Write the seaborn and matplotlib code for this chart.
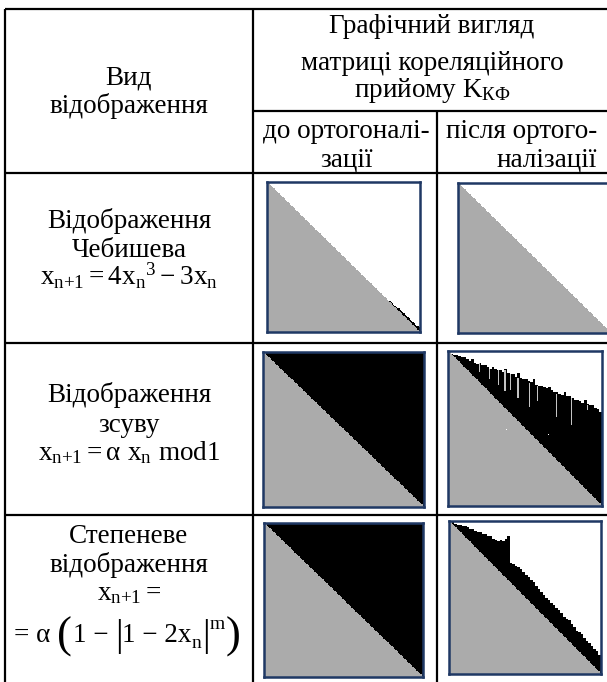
import numpy as np
import matplotlib.pyplot as plt
import seaborn as sns
from matplotlib.colors import ListedColormap

# --- table text ---
header_left = ["Вид", "відображення"]
header_top = ["Графічний вигляд", "матриці кореляційного", "прийому $\\mathrm{K}_{\\mathrm{КФ}}$"]
header_before = ["до ортогоналі-", "зації"]
header_after = ["після ортого-", "налізації"]
row_titles = [["Відображення", "Чебишева"],
              ["Відображення", "зсуву"],
              ["Степеневе", "відображення"]]
row_formulas = [[r"$x_{n{+}1} = 4x_n{}^{3} - 3x_n$"],
                [r"$x_{n{+}1} = α\ x_n\ mod1$"],
                [r"$x_{n{+}1} =$"]]
# last formula line is set piece by piece: (text, size factor, baseline shift px, gap after px)
power_pieces = [("= α", 1.0, 0, 7), ("(", 1.65, 6, 1), ("1 − ", 1.0, 0, 0),
                ("|", 1.4, 4, 0), ("1 − 2x", 1.0, 0, 0), ("n", 0.72, 6, 0),
                ("|", 1.4, 4, 0), ("m", 0.72, -13, 1), (")", 1.65, 6, 0)]

# --- matrix data (fractions of the matrix size) ---
# row where the black band starts above the diagonal, per column group
shift_after_top = [0.00, 0.01, 0.02, 0.02, 0.03, 0.04, 0.04, 0.05, 0.06, 0.05,
                   0.07, 0.08, 0.07, 0.09, 0.09, 0.10, 0.11, 0.10, 0.11, 0.12,
                   0.12, 0.13, 0.11, 0.14, 0.15, 0.15, 0.16, 0.14, 0.17, 0.18,
                   0.18, 0.19, 0.20, 0.18, 0.21, 0.22, 0.22, 0.23, 0.24, 0.23,
                   0.25, 0.26, 0.26, 0.27, 0.28, 0.26, 0.29, 0.29, 0.30, 0.31,
                   0.31, 0.32, 0.33, 0.31, 0.34, 0.35, 0.35, 0.36, 0.37, 0.39]
power_after_top = [0.00, 0.00, 0.01, 0.02, 0.02, 0.03, 0.03, 0.04, 0.05, 0.05,
                   0.06, 0.07, 0.07, 0.08, 0.08, 0.10, 0.10, 0.11, 0.12, 0.13,
                   0.12, 0.13, 0.11, 0.10, 0.27, 0.28, 0.29, 0.30, 0.31, 0.33,
                   0.35, 0.36, 0.38, 0.40, 0.42, 0.44, 0.46, 0.48, 0.50, 0.51,
                   0.53, 0.55, 0.56, 0.58, 0.60, 0.62, 0.64, 0.65, 0.67, 0.69,
                   0.71, 0.72, 0.74, 0.76, 0.78, 0.80, 0.81, 0.83, 0.85, 0.87]
# light streaks inside the black band: (column, row from, row to)
shift_after_streaks = [(0.20, 0.08, 0.135), (0.27, 0.10, 0.19), (0.33, 0.11, 0.22),
                       (0.37, 0.13, 0.26), (0.40, 0.14, 0.25), (0.45, 0.18, 0.30),
                       (0.53, 0.21, 0.36), (0.58, 0.23, 0.33), (0.70, 0.28, 0.43),
                       (0.80, 0.30, 0.48), (0.90, 0.35, 0.39)]
shift_after_dots = [(0.377, 0.50), (0.656, 0.535)]
# short black streak along the diagonal near the end (Chebyshev, before)
cheb_before_tail_cols = [0.80, 0.83, 0.86, 0.89, 0.92, 0.95, 0.98]
cheb_before_tail_depth = [0.008, 0.010, 0.013, 0.015, 0.018, 0.020, 0.022]

N = 120
cmap = ListedColormap(["#FFFFFF", "#ABABAB", "#000000", "#C4C4C4"])


def base_matrix():
    i, j = np.indices((N, N))
    return np.where(i >= j, 1, 0), i, j


def band_matrix(top):
    m, i, j = base_matrix()
    k = j * len(top) // N
    t = np.asarray(top)[k] * N
    m[(i < j) & (i >= t)] = 2
    return m


def white_matrix():
    return base_matrix()[0]


def black_matrix():
    m, i, j = base_matrix()
    m[i < j] = 2
    return m


def cheb_before():
    m, i, j = base_matrix()
    cols = np.asarray(cheb_before_tail_cols)
    for jj in range(N):
        f = (jj + 0.5) / N
        if f < cols[0]:
            continue
        d = cheb_before_tail_depth[np.searchsorted(cols, f, side="right") - 1]
        lo = int(round(jj - max(1, d * N)))
        m[max(lo, 0):jj, jj] = 2
    return m


def shift_after():
    m = band_matrix(shift_after_top)
    for c, r0, r1 in shift_after_streaks:
        jj = int(c * N)
        seg = m[int(r0 * N):int(r1 * N), jj]
        seg[seg == 2] = 3
    for c, r in shift_after_dots:
        m[int(r * N), int(c * N)] = 0
    return m


panels = [[cheb_before(), white_matrix()],
          [black_matrix(), shift_after()],
          [black_matrix(), band_matrix(power_after_top)]]

# image boxes in pixels: left, top, right, bottom
boxes = [[(267, 182, 420, 332), (458, 183, 611, 333)],
         [(263, 352, 424, 507), (448, 351, 602, 506)],
         [(264, 523, 423, 677), (449, 521, 601, 674)]]

sns.set_style("white")
plt.rcParams["font.family"] = ["Liberation Serif", "DejaVu Serif"]
plt.rcParams["mathtext.fontset"] = "custom"
plt.rcParams["mathtext.rm"] = "Liberation Serif"
plt.rcParams["mathtext.it"] = "Liberation Serif"
plt.rcParams["mathtext.default"] = "rm"

W, H = 607, 682
fig = plt.figure(figsize=(W / 100, H / 100), dpi=100)
bg = fig.add_axes([0, 0, 1, 1])
bg.set_xlim(0, W)
bg.set_ylim(H, 0)
bg.axis("off")

# table grid
lw = 1.6
for (x0, x1, y) in [(5, 620, 9), (253, 620, 111), (5, 620, 173), (5, 620, 343), (5, 620, 515)]:
    bg.plot([x0, x1], [y, y], color="black", lw=lw, solid_capstyle="butt")
for (x, y0, y1) in [(5, 9, 700), (253, 9, 700), (437, 111, 700)]:
    bg.plot([x, x], [y0, y1], color="black", lw=lw, solid_capstyle="butt")

fs = 19.5
tk = dict(ha="center", va="baseline", fontsize=fs, color="black")
for s, y in zip(header_left, [84, 113]):
    bg.text(129, y, s, **tk)
for s, y in zip(header_top, [33, 70, 97]):
    bg.text(432, y, s, **tk)
for s, y in zip(header_before, [138, 166]):
    bg.text(346, y, s, **tk)
for s, y in zip(header_after, [138, 166]):
    bg.text(597, y, s, ha="right", va="baseline", fontsize=fs, color="black")

row_lines = [[228, 257, 285], [402, 432, 460], [543, 572, 600]]
for titles, forms, ys in zip(row_titles, row_formulas, row_lines):
    for s, y in zip(titles + forms, ys):
        bg.text(129, y, s, **tk)

# power map formula, second line, laid out piece by piece
renderer = fig.canvas.get_renderer()
arts, widths = [], []
for s, k, dy, gap in power_pieces:
    t = bg.text(0, 642 + dy, s, ha="left", va="baseline", fontsize=fs * k, color="black")
    arts.append(t)
    widths.append(t.get_window_extent(renderer).width + gap)
x = 127 - sum(widths) / 2
for t, w in zip(arts, widths):
    t.set_x(x)
    x += w

for prow, brow in zip(panels, boxes):
    for m, (l, t, r, b) in zip(prow, brow):
        ax = fig.add_axes([l / W, 1 - b / H, (r - l) / W, (b - t) / H])
        sns.heatmap(m, ax=ax, cmap=cmap, vmin=-0.5, vmax=3.5, cbar=False,
                    xticklabels=False, yticklabels=False)
        for sp in ax.spines.values():
            sp.set_visible(True)
            sp.set_color("#1F3864")
            sp.set_linewidth(1.8)

fig.savefig("out.png", dpi=100)
